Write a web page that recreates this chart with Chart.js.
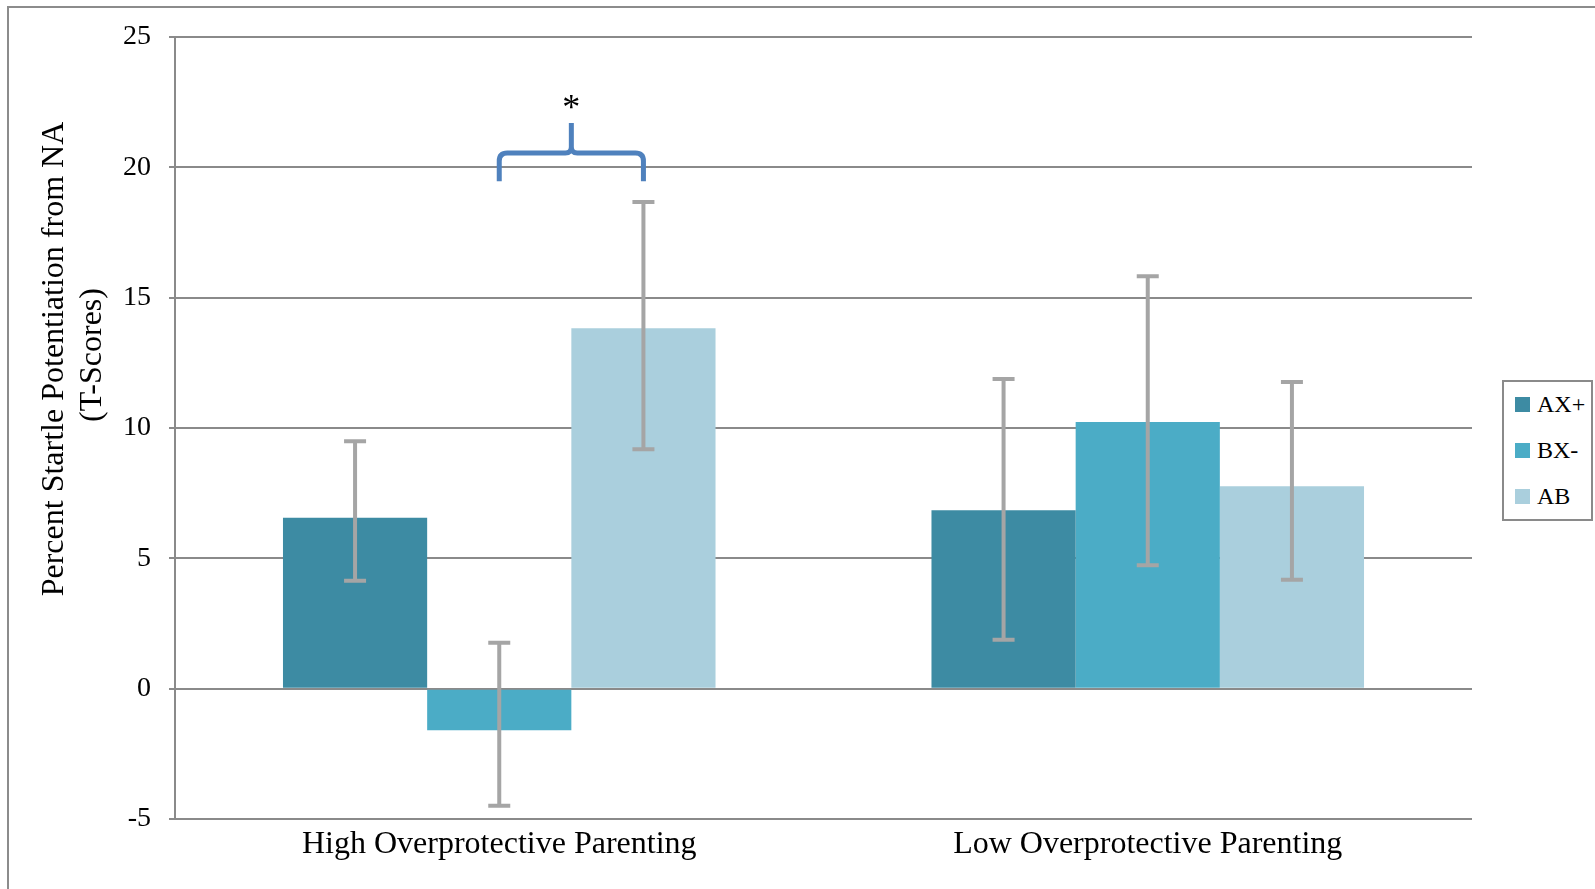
<!DOCTYPE html>
<html>
<head>
<meta charset="utf-8">
<script src="https://cdn.jsdelivr.net/npm/chart.js@4.4.1/dist/chart.umd.min.js"></script>
<style>
  html, body { margin: 0; padding: 0; background: #fff; overflow: hidden; }
  #wrap { position: relative; width: 1595px; height: 889px; overflow: hidden; }
  #frame { position: absolute; left: 7px; top: 6px; width: 2000px; height: 2000px; border: 2px solid #8c8c8c; }
  #chart { position: absolute; left: 0; top: 0; }
  #legend {
    position: absolute; left: 1502px; top: 380px; width: 91px; height: 141px;
    box-sizing: border-box; border: 2px solid #8a8a8a; background: #fff;
    display: flex; flex-direction: column; justify-content: center;
    font-family: 'Liberation Serif', serif; font-size: 24px; color: #000;
  }
  #legend .item { height: 46.6px; display: flex; align-items: center; padding-left: 11px; }
  #legend .swatch { width: 15px; height: 15px; margin-right: 7px; }
</style>
</head>
<body>
<div id="wrap">
  <div id="frame"></div>
  <canvas id="chart" width="1595" height="889"></canvas>
  <div id="legend"></div>
</div>
<script>
// values (T-scores)
const groups = ['High Overprotective Parenting', 'Low Overprotective Parenting']
const seriesNames = ['AX+', 'BX-', 'AB']
const axPlus = [6.56, 6.84]
const bxMinus = [-1.6, 10.23]
const ab = [13.83, 7.77]

// error bar ends
const axPlusLow = [4.14, 1.88]
const axPlusHigh = [9.49, 11.88]
const bxMinusLow = [-4.49, 4.73]
const bxMinusHigh = [1.76, 15.82]
const abLow = [9.18, 4.18]
const abHigh = [18.67, 11.76]

const yTicks = [-5, 0, 5, 10, 15, 20, 25]

// significance brace between BX- and AB in the first group, in y units
const sigGroup = 0
const sigFrom = 1
const sigTo = 2
const sigEnd = 19.47
const sigBar = 20.55
const sigTip = 21.7
const sigStar = 22.2

const colors = ['#3d8ba3', '#4bacc6', '#aacfdd']
const errLow = [axPlusLow, bxMinusLow, abLow]
const errHigh = [axPlusHigh, bxMinusHigh, abHigh]
const serif = 'Liberation Serif'

const errorBars = {
  id: 'errorBars',
  afterDatasetsDraw(chart) {
    const { ctx } = chart
    const y = chart.scales.y
    ctx.save()
    ctx.strokeStyle = '#a5a5a5'
    ctx.lineWidth = 4
    chart.data.datasets.forEach((ds, i) => {
      chart.getDatasetMeta(i).data.forEach((bar, j) => {
        const top = y.getPixelForValue(errHigh[i][j])
        const bot = y.getPixelForValue(errLow[i][j])
        ctx.beginPath()
        ctx.moveTo(bar.x, top); ctx.lineTo(bar.x, bot)
        ctx.moveTo(bar.x - 11, top); ctx.lineTo(bar.x + 11, top)
        ctx.moveTo(bar.x - 11, bot); ctx.lineTo(bar.x + 11, bot)
        ctx.stroke()
      })
    })
    ctx.restore()
  }
}

const sigBrace = {
  id: 'sigBrace',
  afterDraw(chart) {
    const { ctx } = chart
    const y = chart.scales.y
    const x1 = chart.getDatasetMeta(sigFrom).data[sigGroup].x
    const x2 = chart.getDatasetMeta(sigTo).data[sigGroup].x
    const xc = (x1 + x2) / 2
    const yEnd = y.getPixelForValue(sigEnd)
    const yBar = y.getPixelForValue(sigBar)
    const yTip = y.getPixelForValue(sigTip)
    const r = 8, rc = 6
    ctx.save()
    ctx.strokeStyle = '#4f81bd'
    ctx.lineWidth = 5
    ctx.lineJoin = 'round'
    ctx.beginPath()
    ctx.moveTo(x1, yEnd)
    ctx.lineTo(x1, yBar + r)
    ctx.quadraticCurveTo(x1, yBar, x1 + r, yBar)
    ctx.lineTo(xc - rc, yBar)
    ctx.quadraticCurveTo(xc, yBar, xc, yBar - rc)
    ctx.lineTo(xc, yTip)
    ctx.moveTo(xc, yBar - rc)
    ctx.quadraticCurveTo(xc, yBar, xc + rc, yBar)
    ctx.lineTo(x2 - r, yBar)
    ctx.quadraticCurveTo(x2, yBar, x2, yBar + r)
    ctx.lineTo(x2, yEnd)
    ctx.stroke()
    ctx.fillStyle = '#000'
    ctx.font = '36px "' + serif + '"'
    ctx.textAlign = 'center'
    ctx.textBaseline = 'middle'
    ctx.fillText('*', xc, y.getPixelForValue(sigStar))
    ctx.restore()
  }
}

// two-line y title, sitting above the middle of the axis like in the source
const yTitle = {
  id: 'yTitle',
  afterDraw(chart) {
    const { ctx } = chart
    ctx.save()
    ctx.fillStyle = '#000'
    ctx.font = '32px "' + serif + '"'
    ctx.textAlign = 'center'
    ctx.textBaseline = 'middle'
    const lines = [['Percent Startle Potentiation from NA', 55, 359], ['(T-Scores)', 93, 355]]
    lines.forEach(([t, x, cy]) => {
      ctx.save()
      ctx.translate(x, cy)
      ctx.rotate(-Math.PI / 2)
      ctx.fillText(t, 0, 0)
      ctx.restore()
    })
    ctx.restore()
  }
}

const chart = new Chart(document.getElementById('chart'), {
  type: 'bar',
  data: {
    labels: groups,
    datasets: [axPlus, bxMinus, ab].map((d, i) => ({
      label: seriesNames[i],
      data: d,
      backgroundColor: colors[i],
      borderWidth: 0,
      categoryPercentage: 0.667,
      barPercentage: 1.0,
    })),
  },
  options: {
    responsive: false,
    animation: false,
    layout: { padding: { top: 37, right: 123, bottom: 0, left: 0 } },
    plugins: { legend: { display: false }, tooltip: { enabled: false } },
    scales: {
      x: {
        grid: { display: false, drawTicks: false },
        border: { display: false },
        ticks: { color: '#000', font: { family: serif, size: 32 }, padding: 6, maxRotation: 0 },
        afterFit: (s) => { s.height = 70 },
      },
      y: {
        min: -5,
        max: 25,
        afterBuildTicks: (s) => { s.ticks = yTicks.map((v) => ({ value: v })) },
        grid: { color: '#8a8a8a', lineWidth: 2, tickLength: 6 },
        border: { display: true, color: '#8a8a8a', width: 2 },
        ticks: { color: '#000', font: { family: serif, size: 28 }, padding: 18 },
        afterFit: (s) => { s.width = 175 },
      },
    },
  },
  plugins: [errorBars, sigBrace, yTitle],
})

// html legend built from the chart's own legend items
const legendEl = document.getElementById('legend')
chart.options.plugins.legend.labels.generateLabels(chart).forEach((item) => {
  const row = document.createElement('div')
  row.className = 'item'
  const sw = document.createElement('span')
  sw.className = 'swatch'
  sw.style.background = item.fillStyle
  row.appendChild(sw)
  row.appendChild(document.createTextNode(item.text))
  legendEl.appendChild(row)
})
</script>
</body>
</html>
